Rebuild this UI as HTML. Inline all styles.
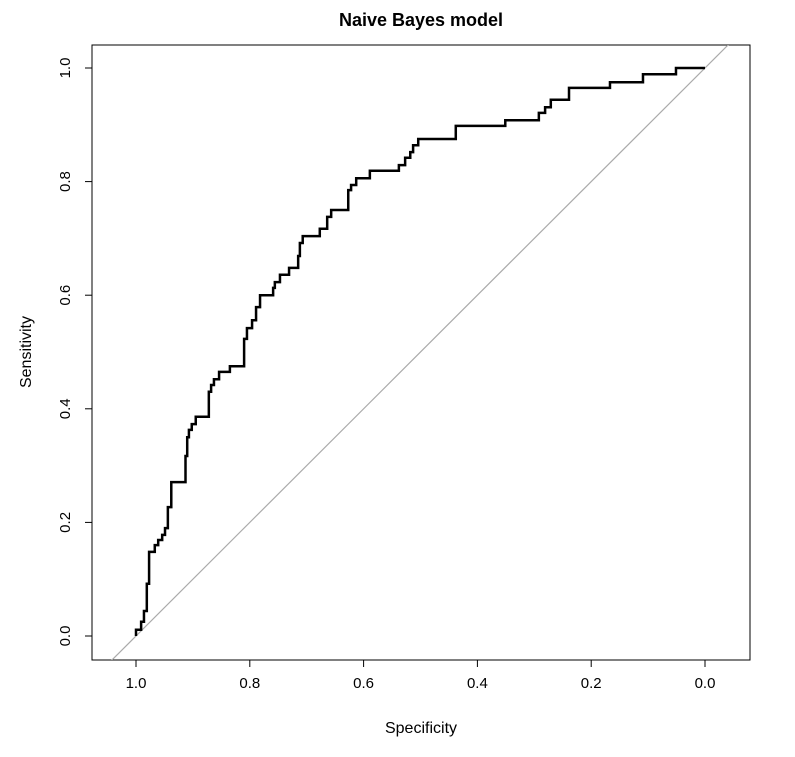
<!DOCTYPE html>
<html><head><meta charset="utf-8"><style>
body{margin:0;background:#fff;}
svg text{font-family:"Liberation Sans",Arial,sans-serif;}
</style></head><body>
<svg id="chart" width="795" height="752">
<defs><clipPath id="clip"><rect x="92" y="45" width="658" height="615"/></clipPath></defs>
<text x="421" y="26" text-anchor="middle" font-size="18" font-weight="bold">Naive Bayes model</text>
<rect x="92" y="45" width="658" height="615" fill="none" stroke="#000" stroke-width="1"/>
<g id="xaxis"></g>
<g id="yaxis"></g>
<text x="421" y="733" text-anchor="middle" font-size="16">Specificity</text>
<text transform="translate(31,352) rotate(-90)" text-anchor="middle" font-size="16">Sensitivity</text>
<g clip-path="url(#clip)"><line id="diag" stroke="#aaa" stroke-width="1.2"/></g>
<path id="roc" fill="none" stroke="#000" stroke-width="2.5"/>
</svg>
<script>
const ticks=[1.0,0.8,0.6,0.4,0.2,0.0];
const tickLabels=["1.0","0.8","0.6","0.4","0.2","0.0"];
const specificity=[1,0.991,0.986,0.981,0.977,0.967,0.961,0.954,0.949,0.944,0.938,0.913,0.910,0.907,0.902,0.895,0.872,0.868,0.863,0.854,0.835,0.810,0.805,0.796,0.789,0.782,0.759,0.756,0.747,0.731,0.715,0.712,0.707,0.677,0.664,0.657,0.627,0.622,0.613,0.589,0.538,0.527,0.518,0.513,0.504,0.438,0.351,0.292,0.281,0.271,0.239,0.167,0.109,0.051,0];
const sensitivity=[0.011,0.025,0.044,0.092,0.148,0.160,0.169,0.178,0.190,0.227,0.271,0.317,0.350,0.363,0.373,0.386,0.430,0.442,0.452,0.465,0.475,0.523,0.542,0.556,0.579,0.600,0.613,0.623,0.636,0.648,0.669,0.692,0.704,0.717,0.738,0.750,0.785,0.794,0.806,0.819,0.829,0.842,0.852,0.864,0.875,0.898,0.908,0.921,0.931,0.944,0.965,0.975,0.989,1,1];
const X=v=>705-v*569, Y=v=>636-v*568;
const NS="http://www.w3.org/2000/svg";
const xa=document.getElementById('xaxis'), ya=document.getElementById('yaxis');
function mk(tag,attrs,parent){const e=document.createElementNS(NS,tag);for(const k in attrs)e.setAttribute(k,attrs[k]);parent.appendChild(e);return e;}
const xl=mk('line',{x1:X(1),x2:X(0),y1:660,y2:660,stroke:'#000'},xa);
const yl=mk('line',{x1:92,x2:92,y1:Y(0),y2:Y(1),stroke:'#000'},ya);
ticks.forEach((t,i)=>{
 const a=mk('line',{x1:X(t),x2:X(t),y1:660,y2:667,stroke:'#000'},xa);
 
 
 const b=mk('text',{x:X(t),y:688,'text-anchor':'middle','font-size':15},xa);b.textContent=tickLabels[i];
 
 
 const c=mk('line',{x1:85,x2:92,y1:Y(t),y2:Y(t),stroke:'#000'},ya);
 
 
 const d=mk('text',{transform:`translate(70,${Y(t)}) rotate(-90)`,'text-anchor':'middle','font-size':15},ya);d.textContent=tickLabels[5-i];
 
 
});
// y ticks should be 0.0..1.0 bottom to top: fix label by position
ya.querySelectorAll('text').forEach((el,i)=>{el.textContent=tickLabels[i];el.setAttribute('transform',`translate(70,${Y(ticks[i])}) rotate(-90)`);});
const dg=document.getElementById('diag');
dg.setAttribute('x1',X(1.2));dg.setAttribute('y1',Y(-0.2));dg.setAttribute('x2',X(-0.2));dg.setAttribute('y2',Y(1.2));
let d=`M${X(1)},${Y(0)}`;
for(let i=0;i<specificity.length;i++){d+=` L${X(specificity[i])},${Y(i?sensitivity[i-1]:0)} L${X(specificity[i])},${Y(sensitivity[i])}`;}
document.getElementById('roc').setAttribute('d',d);
</script>
</body></html>
